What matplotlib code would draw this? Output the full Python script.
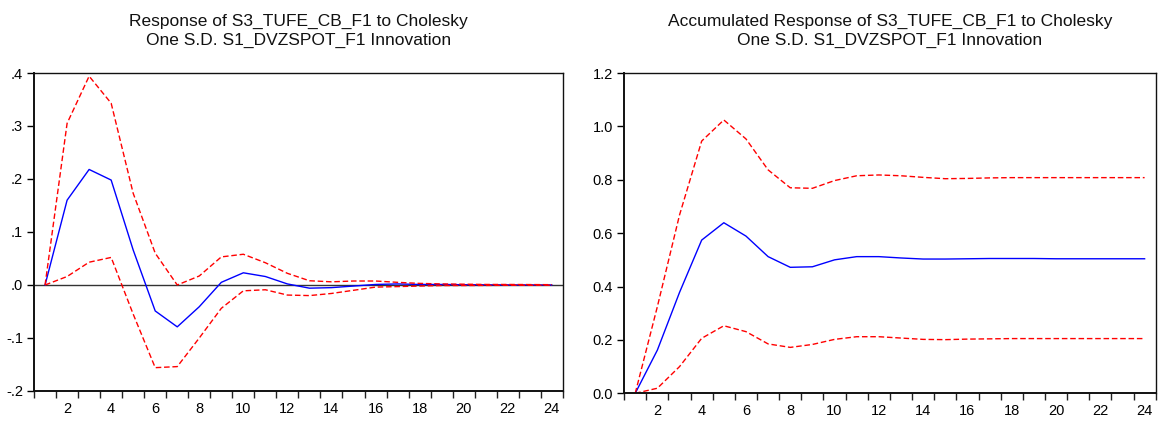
import matplotlib.pyplot as plt

plt.rcParams['font.family'] = ['Liberation Sans', 'DejaVu Sans']

periods = list(range(1, 25))

# Impulse response of S3_TUFE_CB_F1 and its +/- 2 S.E. bands
response = [0.0, 0.160, 0.218, 0.198, 0.066, -0.049, -0.079, -0.041, 0.005, 0.023,
            0.016, 0.002, -0.006, -0.005, -0.002, 0.001, 0.002, 0.001, 0.001, 0.0005,
            0.0003, 0.0002, 0.0001, 0.0001]
response_upper = [0.0, 0.305, 0.394, 0.343, 0.173, 0.060, 0.0, 0.017, 0.053, 0.058,
                  0.042, 0.022, 0.008, 0.006, 0.0075, 0.0075, 0.005, 0.003, 0.002, 0.0015,
                  0.001, 0.001, 0.0008, 0.0006]
response_lower = [0.0, 0.016, 0.043, 0.052, -0.055, -0.156, -0.154, -0.100, -0.044, -0.011,
                  -0.009, -0.019, -0.020, -0.016, -0.010, -0.004, -0.003, -0.002, -0.001, -0.001,
                  -0.0008, -0.0006, -0.0005, -0.0004]

# Accumulated response and its bands
accum = [0.0, 0.162, 0.378, 0.574, 0.639, 0.589, 0.512, 0.472, 0.474, 0.500,
         0.512, 0.512, 0.507, 0.503, 0.503, 0.504, 0.505, 0.505, 0.505, 0.504,
         0.504, 0.504, 0.504, 0.504]
accum_upper = [0.0, 0.325, 0.668, 0.945, 1.024, 0.953, 0.837, 0.770, 0.768, 0.797,
               0.815, 0.818, 0.815, 0.809, 0.804, 0.805, 0.807, 0.808, 0.808, 0.808,
               0.808, 0.808, 0.808, 0.808]
accum_lower = [0.0, 0.019, 0.100, 0.206, 0.253, 0.231, 0.185, 0.172, 0.183, 0.202,
               0.212, 0.212, 0.207, 0.202, 0.201, 0.203, 0.204, 0.205, 0.205, 0.205,
               0.205, 0.205, 0.205, 0.205]

left_yticks = [-0.2, -0.1, 0.0, 0.1, 0.2, 0.3, 0.4]
left_yticklabels = ['-.2', '-.1', '.0', '.1', '.2', '.3', '.4']
right_yticks = [0.0, 0.2, 0.4, 0.6, 0.8, 1.0, 1.2]
right_yticklabels = ['0.0', '0.2', '0.4', '0.6', '0.8', '1.0', '1.2']
xticklabels = [str(p) for p in range(2, 25, 2)]

titles = [
    'Response of S3_TUFE_CB_F1 to Cholesky\nOne S.D. S1_DVZSPOT_F1 Innovation',
    'Accumulated Response of S3_TUFE_CB_F1 to Cholesky\nOne S.D. S1_DVZSPOT_F1 Innovation',
]

fig = plt.figure(figsize=(11.58, 4.21), dpi=100)
ax1 = fig.add_axes([0.0294, 0.0713, 0.4566, 0.7553])
ax2 = fig.add_axes([0.5390, 0.0658, 0.4590, 0.7608])


def style_panel(ax, title, yticks, yticklabels):
    ax.set_xlim(0.5, 24.5)
    ax.set_ylim(yticks[0], yticks[-1])
    ax.set_yticks(yticks)
    ax.set_yticklabels(yticklabels)
    # EViews style: ticks between periods, labels under even periods
    ax.set_xticks([p + 0.5 for p in range(0, 25)])
    ax.set_xticklabels([])
    ax.set_xticks(list(range(2, 25, 2)), minor=True)
    ax.set_xticklabels(xticklabels, minor=True)
    ax.tick_params(axis='x', which='major', direction='out', length=5, width=1, colors='#222222')
    ax.tick_params(axis='x', which='minor', length=0, pad=8, labelsize=10.5)
    ax.tick_params(axis='y', direction='out', length=5, width=1, labelsize=10.5, pad=3)
    for side in ['top', 'right', 'bottom', 'left']:
        ax.spines[side].set_color('#111111')
        ax.spines[side].set_linewidth(1.0)
    ax.spines['left'].set_linewidth(1.4)
    ax.spines['bottom'].set_linewidth(1.4)
    ax.set_title(title, fontsize=12.5, pad=20, linespacing=1.32, color='#111111')


style_panel(ax1, titles[0], left_yticks, left_yticklabels)
ax1.axhline(0.0, color='#333333', linewidth=1.0, zorder=1)
ax1.plot(periods, response, color='#0000ff', linewidth=1.0)
ax1.plot(periods, response_upper, color='#ff0000', linewidth=1.0, linestyle=(0, (4, 2)))
ax1.plot(periods, response_lower, color='#ff0000', linewidth=1.0, linestyle=(0, (4, 2)))

style_panel(ax2, titles[1], right_yticks, right_yticklabels)
ax2.plot(periods, accum, color='#0000ff', linewidth=1.0)
ax2.plot(periods, accum_upper, color='#ff0000', linewidth=1.0, linestyle=(0, (4, 2)))
ax2.plot(periods, accum_lower, color='#ff0000', linewidth=1.0, linestyle=(0, (4, 2)))

fig.savefig('out.png', dpi=100)
plt.close(fig)
